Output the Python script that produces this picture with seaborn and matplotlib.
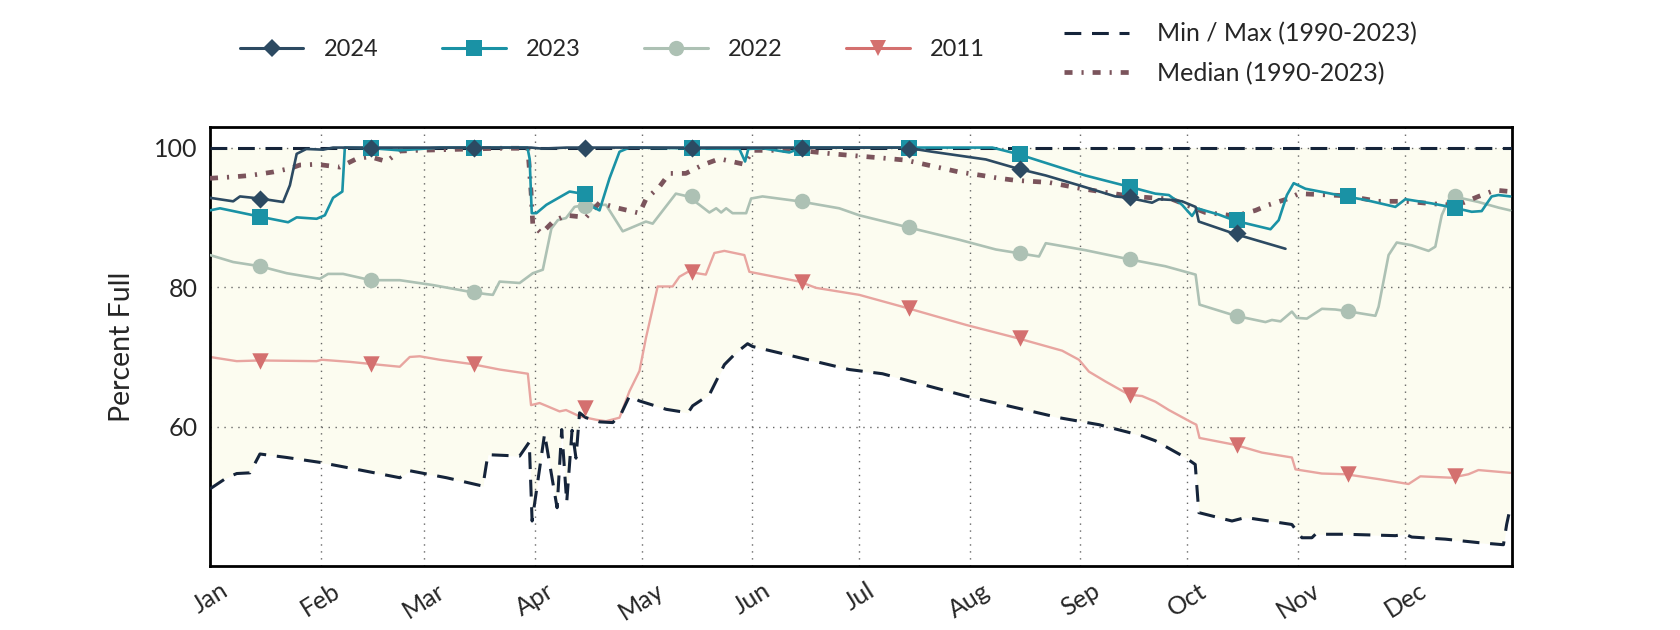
import numpy as np
import pandas as pd
import matplotlib
matplotlib.use("Agg")
import matplotlib.pyplot as plt
from matplotlib.lines import Line2D
import seaborn as sns

# ---------------- data (day of year, 0 = Jan 1, leap year) ----------------
MONTHS = ["Jan", "Feb", "Mar", "Apr", "May", "Jun", "Jul", "Aug", "Sep", "Oct", "Nov", "Dec"]
MONTH_START = [0, 31, 60, 91, 121, 152, 182, 213, 244, 274, 305, 335]
Y_TICKS = [60, 80, 100]
MARK_DAY = [14, 45, 74, 105, 135, 166, 196, 227, 258, 288, 319, 349]

Y2024_DAY = [0, 6.5, 8.4, 14, 20.5, 22.4, 24.3, 27, 31.7, 34.5, 90, 93, 100, 195, 202.5, 217.5,
             226.3, 234.3, 243.6, 253.8, 257.6, 264.1, 266, 269.7, 272.5, 276.3, 277.2, 287.5, 301.5]
Y2024_PCT = [92.8, 92.3, 93.0, 92.7, 92.2, 94.6, 99.1, 99.8, 99.7, 100, 100, 99.85, 100, 100, 99.4, 98.3,
             97.0, 96.0, 94.6, 93.0, 92.8, 92.1, 92.6, 92.5, 92.3, 91.5, 89.4, 87.6, 85.5]
M2024 = [92.7, 100, 100, 100, 100, 100, 99.8, 97.0, 92.9, 87.7]

Y2023_DAY = [0, 2.8, 14, 21.9, 24.3, 29.9, 32.2, 34.5, 37.1, 37.8, 45.7, 53.2, 61.6, 64.4, 89, 89.6,
             90.2, 91.5, 94.3, 100.8, 104.3, 107.3, 109.2, 112, 114.8, 117.6, 148.4, 150, 150.9, 155,
             162.4, 166, 219.3, 226.3, 238, 245.4, 257.6, 265, 268.8, 272.5, 275.3, 276.7, 282.8,
             287.5, 297.3, 299.6, 301.9, 303.8, 307.1, 318.3, 323.9, 332.3, 335.1, 342.5, 348.6,
             353.7, 356.5, 359.3, 361.2, 364.5]
Y2023_PCT = [91.0, 91.3, 90.1, 89.3, 90.0, 89.8, 90.3, 92.8, 93.7, 100, 99.9, 99.6, 99.9, 100, 100, 98.4,
             90.6, 90.6, 91.8, 93.7, 93.4, 91.5, 91.0, 95.6, 99.4, 100, 99.8, 98.0, 99.8, 99.9,
             99.3, 100, 100, 99.1, 97.2, 96.0, 94.4, 93.4, 93.2, 91.8, 90.2, 91.3, 90.4,
             89.5, 88.3, 89.6, 93.2, 94.9, 94.1, 93.0, 92.5, 91.5, 92.6, 92.0, 91.4,
             90.8, 90.9, 93.0, 93.2, 93.0]
M2023 = [90.1, 100, 100, 93.4, 100, 99.9, 100, 99.1, 94.4, 89.6, 93.0, 91.4]

Y2022_DAY = [0, 6.5, 14, 21.5, 30.8, 33.1, 37.3, 45.1, 53.2, 62.5, 73.2, 77.5, 79.3, 81.2, 86.8, 90.5,
             93.3, 95.7, 97.5, 99.8, 102.2, 104.3, 111, 115.7, 122.2, 124.1, 130.6, 134, 137.2, 140,
             141.9, 143.3, 144.7, 146.5, 150.3, 151.7, 154.9, 165.2, 176.4, 182, 195.5, 210, 220.3,
             226.3, 232.4, 234.3, 245.4, 257.6, 267.8, 276.3, 277.4, 287.5, 295.9, 297.7, 300.1,
             303.3, 304.7, 307.5, 311.7, 315.5, 318.3, 326.7, 327.6, 330.4, 332.7, 336.9, 341.6,
             343.5, 345.3, 347.2, 348.6, 355.6, 361.2, 364.5]
Y2022_PCT = [84.6, 83.6, 83.0, 82.0, 81.2, 81.9, 81.9, 81.0, 81.0, 80.3, 79.3, 79.0, 78.9, 80.8, 80.6, 82.0,
             82.5, 88.4, 89.6, 89.9, 91.5, 91.7, 91.8, 88.0, 89.4, 89.1, 93.4, 93.0, 91.8, 90.7,
             91.3, 90.7, 91.3, 90.6, 90.6, 92.7, 93.0, 92.3, 91.3, 90.3, 88.6, 86.8, 85.4,
             84.9, 84.4, 86.3, 85.3, 84.0, 83.0, 81.8, 77.5, 75.9, 75.0, 75.3, 75.1,
             76.5, 75.6, 75.5, 76.9, 76.8, 76.6, 75.9, 77.2, 84.6, 86.4, 86.0, 85.2,
             85.8, 90.3, 92.5, 93.0, 92.2, 91.4, 91.0]
M2022 = [83.0, 81.0, 79.3, 91.7, 93.0, 92.3, 88.6, 84.9, 84.0, 75.9, 76.6, 93.0]

Y2011_DAY = [0, 7.5, 14, 29.9, 31.3, 39.2, 45.1, 53.2, 56, 58.8, 64.4, 73.2, 81.2, 89.1, 90, 92.4,
             94.3, 98, 99.8, 103.6, 108.3, 111, 114.8, 117.6, 120.4, 122.2, 125.5, 129.7, 131.6, 134,
             139, 141.4, 144.2, 149.8, 151.2, 165.2, 169.9, 182, 195.5, 211.9, 226.3, 238.9, 243.6,
             246.4, 251, 257.6, 261.3, 265, 268.8, 275.3, 276.5, 277.4, 287.5, 294.9, 303.3, 304.3,
             311.7, 318.3, 327.6, 336, 339.3, 348.1, 352.8, 355.6, 364.5]
Y2011_PCT = [70.0, 69.4, 69.5, 69.4, 69.6, 69.3, 69.0, 68.6, 70.0, 70.1, 69.6, 69.0, 68.2, 67.6, 63.1, 63.4,
             63.0, 62.2, 62.4, 61.5, 61.0, 60.8, 61.3, 65.1, 68.0, 72.7, 80.1, 80.1, 81.5, 82.2,
             81.8, 84.9, 85.2, 84.6, 82.2, 80.8, 79.9, 78.9, 77.0, 74.6, 72.7, 70.9, 69.6,
             67.9, 66.5, 64.6, 64.4, 63.6, 62.4, 60.6, 60.3, 58.4, 57.4, 56.3, 55.6, 53.9,
             53.3, 53.2, 52.5, 51.8, 52.9, 52.7, 53.2, 53.8, 53.4]
M2011 = [69.4, 69.0, 69.0, 62.7, 82.2, 80.8, 77.0, 72.7, 64.6, 57.4, 53.2, 52.9]

MED_DAY = [0, 6.5, 11.2, 17.7, 22.4, 25.2, 29.9, 36.4, 41.1, 44.8, 49.5, 53.2, 57.9, 81.2, 89.1, 90,
           90.5, 92.9, 96.2, 99.8, 105.4, 109.2, 113.8, 120.4, 122.2, 126, 128.8, 133.4, 138.1,
           142.8, 149.8, 152.1, 165.2, 174.5, 188.5, 195, 210, 216.5, 221.2, 225.9, 235.2, 244.5,
           258.5, 269.7, 279, 287.5, 293.1, 296.8, 302.4, 305.2, 318.3, 327.6, 335.1, 346.3, 350.9,
           355.6, 360.3, 364.5]
MED_PCT = [95.6, 95.8, 96.0, 96.5, 97.0, 97.5, 97.6, 97.2, 98.4, 98.7, 98.0, 99.5, 99.6, 99.9, 99.9, 93.7,
           88.9, 87.7, 89.4, 90.3, 90.0, 92.1, 91.4, 90.6, 92.6, 94.4, 96.3, 96.3, 97.5,
           98.4, 97.6, 99.6, 99.6, 99.1, 98.5, 98.2, 96.5, 96.0, 95.6, 95.3, 95.0, 94.1,
           93.0, 92.6, 90.7, 90.2, 91.0, 91.8, 92.7, 93.4, 93.1, 92.3, 92.3, 91.8, 92.0,
           93.0, 93.9, 93.7]

MIN_DAY = [0, 4.7, 7.5, 11.2, 14, 21.5, 30.8, 41.1, 53.2, 56, 66.3, 76.5, 77.9, 86.8, 89.5, 90.3,
           93.8, 97.3, 98.6, 100.0, 101.5, 102.6, 103.6, 105.4, 109.2, 112.9, 115.2, 117.6, 120.4,
           127.9, 134, 135.3, 140, 144.2, 147.5, 150.7, 152.1, 179.2, 188.5, 211.9, 238, 249.2,
           261.3, 265, 273.4, 276.2, 277.2, 286.5, 290.3, 303.3, 306.1, 308.9, 309.9, 318.3, 332.3,
           335.1, 336.9, 346.3, 355.6, 362.6, 363.5, 364.5]
MIN_PCT = [51.1, 52.7, 53.3, 53.4, 56.1, 55.6, 54.9, 53.9, 52.7, 53.7, 52.7, 51.5, 56.0, 55.8, 57.8, 46.5,
           59.0, 48.4, 59.6, 49.2, 59.5, 55.5, 62.0, 61.3, 60.7, 60.6, 61.8, 64.4, 63.7,
           62.5, 62.0, 63.0, 64.6, 68.9, 70.6, 71.9, 71.5, 68.2, 67.6, 64.4, 61.3, 60.3,
           58.7, 58.0, 55.6, 54.6, 47.7, 46.5, 47.0, 46.0, 44.1, 44.1, 44.6, 44.6, 44.4,
           44.6, 44.2, 43.9, 43.4, 43.1, 46.0, 48.4]

MAX_DAY = [0, 365]
MAX_PCT = [100, 100]

# ---------------- style ----------------
sns.set_theme(style="white")
plt.rcParams["font.family"] = ["Lato", "DejaVu Sans"]

C2024 = "#2c4a62"
C2023 = "#1a92a5"
C2022 = "#adc1b4"
C2011 = "#d4706f"
C2011_LINE = "#e8a5a0"
CMED = "#7b545c"
CMIN = "#15243a"
FILL = "#fcfcf0"

fig = plt.figure(figsize=(16.8, 6.3), dpi=100)
ax = fig.add_axes([0.125, 0.101, 0.775, 0.698])

ax.fill_between(MIN_DAY, MIN_PCT, MAX_PCT[0], color=FILL, lw=0, zorder=0.2)

minmax_dash = (5.5, 3.5)
med_dash = (1.7, 1.9, 0.45, 1.9)

sns.lineplot(x=Y2011_DAY, y=Y2011_PCT, ax=ax, color=C2011_LINE, lw=1.7, estimator=None, sort=False, zorder=2)
sns.lineplot(x=MIN_DAY, y=MIN_PCT, ax=ax, color=CMIN, lw=2.2, estimator=None, sort=False, zorder=3).lines[-1].set_dashes(minmax_dash)
sns.lineplot(x=MAX_DAY, y=MAX_PCT, ax=ax, color=CMIN, lw=2.2, estimator=None, sort=False, zorder=3).lines[-1].set_dashes(minmax_dash)
sns.lineplot(x=Y2022_DAY, y=Y2022_PCT, ax=ax, color=C2022, lw=1.9, estimator=None, sort=False, zorder=4)
sns.lineplot(x=MED_DAY, y=MED_PCT, ax=ax, color=CMED, lw=3.4, estimator=None, sort=False, zorder=5).lines[-1].set_dashes(med_dash)
sns.lineplot(x=Y2023_DAY, y=Y2023_PCT, ax=ax, color=C2023, lw=1.9, estimator=None, sort=False, zorder=6)
sns.lineplot(x=Y2024_DAY, y=Y2024_PCT, ax=ax, color=C2024, lw=1.9, estimator=None, sort=False, zorder=7)

sns.scatterplot(x=MARK_DAY[:len(M2011)], y=M2011, ax=ax, marker="v", s=140, color=C2011, linewidth=0, zorder=8)
sns.scatterplot(x=MARK_DAY[:len(M2022)], y=M2022, ax=ax, marker="o", s=125, color=C2022, linewidth=0, zorder=9)
sns.scatterplot(x=MARK_DAY[:len(M2023)], y=M2023, ax=ax, marker="s", s=130, color=C2023, linewidth=0, zorder=10)
sns.scatterplot(x=MARK_DAY[:len(M2024)], y=M2024, ax=ax, marker="D", s=85, color=C2024, linewidth=0, zorder=11)

ax.set_xlim(0, 365)
ax.set_ylim(40, 103)
ax.set_xticks(MONTH_START)
ax.set_xticklabels(MONTHS, rotation=32, ha="center", fontsize=18)
ax.set_yticks(Y_TICKS)
ax.set_yticklabels([str(v) for v in Y_TICKS], fontsize=18)
ax.tick_params(axis="both", length=0)
ax.tick_params(axis="x", pad=9)
ax.tick_params(axis="y", pad=9)
ax.grid(True, linestyle=(0, (1, 4)), color="#666666", lw=1.0)
ax.set_axisbelow(True)
for sp in ax.spines.values():
    sp.set_visible(True)
    sp.set_color("black")
    sp.set_linewidth(2.0)
ax.set_xlabel("")
ax.set_ylabel("Percent Full", fontsize=20.5, labelpad=14)

# legends
h1 = [
    Line2D([], [], color=C2024, lw=2.2, marker="D", ms=9.5, mew=0),
    Line2D([], [], color=C2023, lw=2.2, marker="s", ms=11, mew=0),
    Line2D([], [], color=C2022, lw=2.2, marker="o", ms=11, mew=0),
    Line2D([], [], color=C2011, lw=2.2, marker="v", ms=12, mew=0),
]
leg1 = fig.legend(h1, ["2024", "2023", "2022", "2011"], loc="center left",
                  bbox_to_anchor=(0.13, 0.921), ncol=4, frameon=False, fontsize=17,
                  handlelength=2.7, handletextpad=0.85, columnspacing=2.7)
h2 = [
    Line2D([], [], color=CMIN, lw=2.2, dashes=minmax_dash),
    Line2D([], [], color=CMED, lw=3.4, dashes=med_dash),
]
leg2 = fig.legend(h2, ["Min / Max (1990-2023)", "Median (1990-2023)"], loc="center left",
                  bbox_to_anchor=(0.62, 0.915), ncol=1, frameon=False, fontsize=18,
                  handlelength=2.6, handletextpad=1.1, labelspacing=0.65)

fig.savefig("out.png", dpi=100)
